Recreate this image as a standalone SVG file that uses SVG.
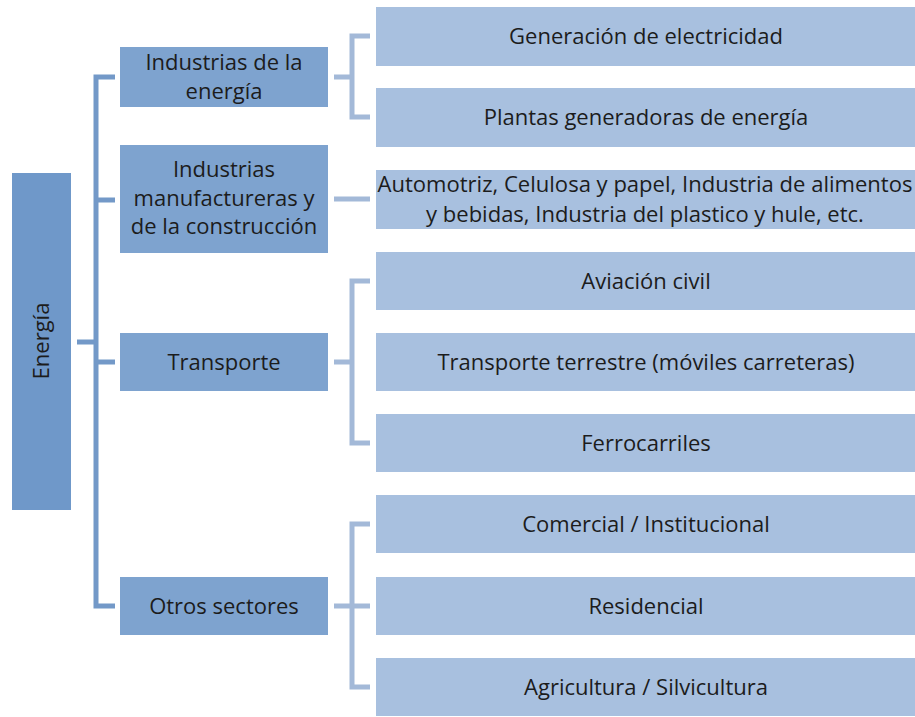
<svg xmlns="http://www.w3.org/2000/svg" width="915" height="717" viewBox="0 0 915 717">
<style>
.root{fill:#6f98c9}
.l1{fill:#7ea3cf}
.l2{fill:#a8c0df}
.c1{stroke:#7399c8;stroke-width:5;fill:none}
.c2{stroke:#a3b9d8;stroke-width:5;fill:none}
text{font-family:"Open Sans","Liberation Sans",sans-serif;font-size:22px;fill:#1c1c1c;text-anchor:middle}
</style>
<rect width="915" height="717" fill="#ffffff"/>
<g id="connectors">
<path class="c1" d="M77 342H96M115 77H96V606H115M96 200H115M96 362H115"/>
<path class="c2" d="M334 77H352M370 36H352V117H370"/>
<path class="c2" d="M334 199H370"/>
<path class="c2" d="M334 362H352M370 281H352V443H370"/>
<path class="c2" d="M334 606H352M370 524H352V687H370M352 606H370"/>
</g>
<g id="n-energia"><rect class="root" x="12" y="173" width="59" height="337"/><text transform="translate(49,341) rotate(-90)">Energía</text></g>
<g id="n-ind-energia"><rect class="l1" x="120" y="47" width="208" height="60"/><text x="224" y="70">Industrias de la</text><text x="224" y="99">energía</text></g>
<g id="n-manuf"><rect class="l1" x="120" y="145" width="208" height="108"/><text x="224" y="177">Industrias</text><text x="224" y="206">manufactureras y</text><text x="224" y="234">de la construcción</text></g>
<g id="n-transporte"><rect class="l1" x="120" y="333" width="208" height="58"/><text x="224" y="370">Transporte</text></g>
<g id="n-otros"><rect class="l1" x="120" y="577" width="208" height="58"/><text x="224" y="614">Otros sectores</text></g>
<g id="n-gen"><rect class="l2" x="376" y="7" width="539" height="59"/><text x="646" y="44">Generación de electricidad</text></g>
<g id="n-plantas"><rect class="l2" x="376" y="88" width="539" height="59"/><text x="646" y="125">Plantas generadoras de energía</text></g>
<g id="n-auto"><rect class="l2" x="376" y="170" width="539" height="59"/><text x="645" y="192" textLength="535" lengthAdjust="spacingAndGlyphs">Automotriz, Celulosa y papel, Industria de alimentos</text><text x="645" y="222">y bebidas, Industria del plastico y hule, etc.</text></g>
<g id="n-aviacion"><rect class="l2" x="376" y="252" width="539" height="58"/><text x="646" y="289">Aviación civil</text></g>
<g id="n-terrestre"><rect class="l2" x="376" y="333" width="539" height="58"/><text x="646" y="370">Transporte terrestre (móviles carreteras)</text></g>
<g id="n-ferro"><rect class="l2" x="376" y="414" width="539" height="58"/><text x="646" y="451">Ferrocarriles</text></g>
<g id="n-comercial"><rect class="l2" x="376" y="495" width="539" height="58"/><text x="646" y="532">Comercial / Institucional</text></g>
<g id="n-residencial"><rect class="l2" x="376" y="577" width="539" height="58"/><text x="646" y="614">Residencial</text></g>
<g id="n-agri"><rect class="l2" x="376" y="658" width="539" height="58"/><text x="646" y="695">Agricultura / Silvicultura</text></g>
</svg>
